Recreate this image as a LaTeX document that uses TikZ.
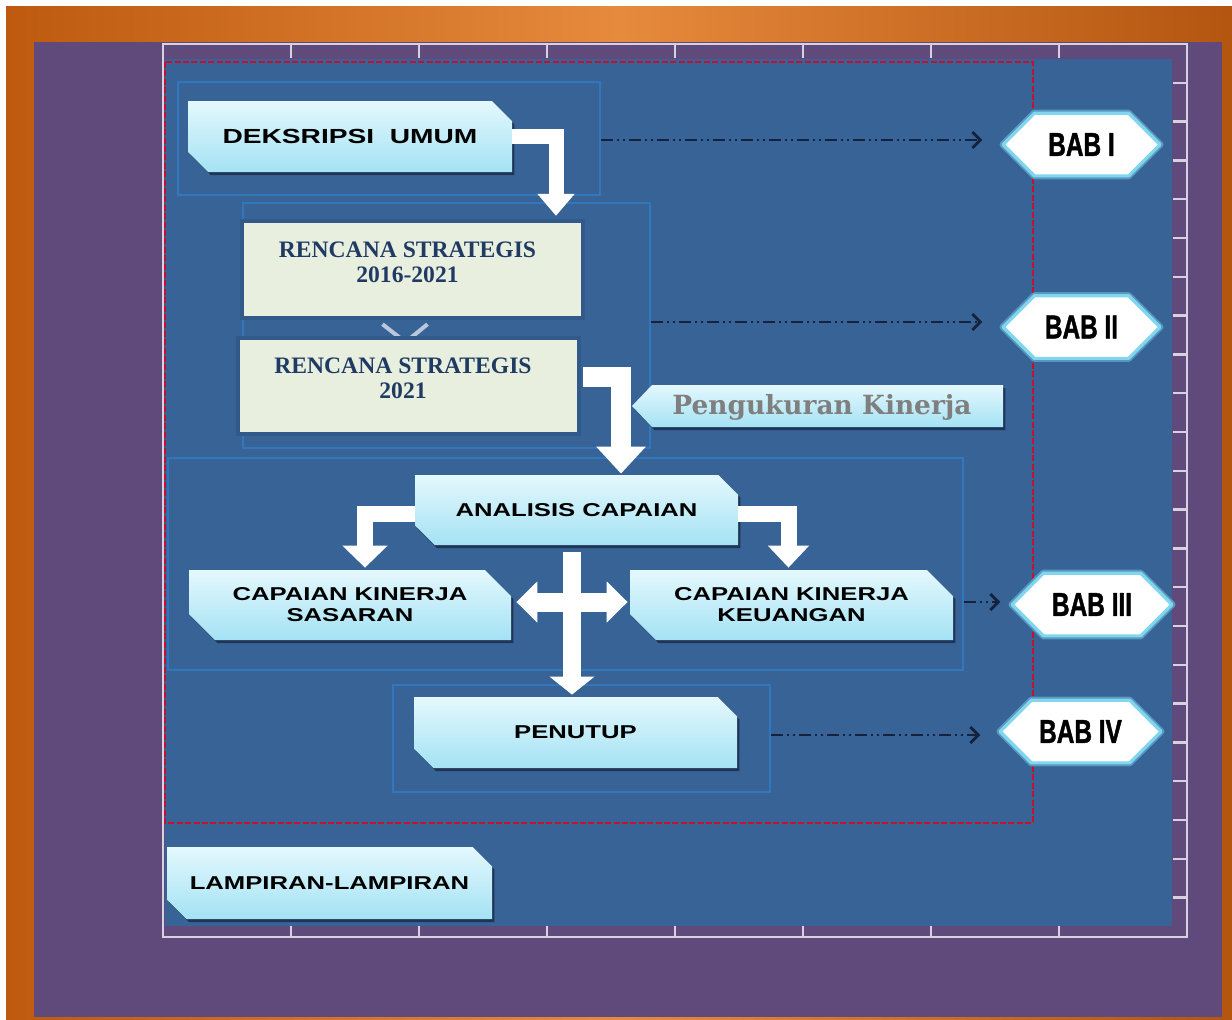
\documentclass[tikz,border=0pt]{standalone}
\usepackage{fontspec}
\setmainfont{Liberation Serif}
\newfontfamily\wfont{Liberation Sans}[FakeStretch=1.38]
\newfontfamily\cfont{Liberation Sans}[FakeStretch=0.74,FakeBold=1.2]
\newfontfamily\slabfont{DejaVu Serif}
\usetikzlibrary{arrows.meta,calc,shapes.misc,shadows}
\definecolor{oEdge}{HTML}{BD5A10}
\definecolor{oMid}{HTML}{E68A3D}
\definecolor{purp}{HTML}{5F4A7B}
\definecolor{panel}{HTML}{386396}
\definecolor{frameC}{HTML}{D6D2E0}
\definecolor{redD}{HTML}{C8102E}
\definecolor{grpC}{HTML}{3276BC}
\definecolor{navyD}{HTML}{15223D}
\definecolor{cyTop}{HTML}{E4F8FD}
\definecolor{cyBot}{HTML}{A4E2F4}
\definecolor{pale}{HTML}{E9EFDF}
\definecolor{paleB}{HTML}{31598A}
\definecolor{renT}{HTML}{1F3A63}
\definecolor{glow}{HTML}{7FD6EE}
\definecolor{pengT}{HTML}{7F7F7F}
\begin{document}
\begin{tikzpicture}[x=0.5pt,y=-0.5pt,
  lbox/.style={chamfered rectangle, chamfered rectangle corners={north east,south west},
    chamfered rectangle xsep=6.5pt, chamfered rectangle ysep=6.5pt,
    top color=cyTop, bottom color=cyBot,
    drop shadow={shadow xshift=1.2pt,shadow yshift=-1.5pt,fill=navyD,opacity=0.7},
    inner sep=0pt, text=black, align=center,
    font=\wfont\bfseries\fontsize{9.3}{10.5}\selectfont},
  rbox/.style={chamfered rectangle, chamfered rectangle corners={north east},
    chamfered rectangle xsep=7.5pt, chamfered rectangle ysep=7.5pt,
    fill=pale, draw=paleB, line width=2.2pt, inner sep=0pt},
  rtext/.style={align=center, text=renT, inner sep=0pt,
    font=\bfseries\fontsize{11.8}{12.3}\selectfont},
  bab/.style={chamfered rectangle, chamfered rectangle xsep=12pt, chamfered rectangle ysep=10pt,
    line join=round, fill=white, draw=glow, line width=1.6pt,
    preaction={draw=glow!45!panel, line width=3.5pt, line join=round},
    inner sep=0pt, text=black, font=\cfont\bfseries\fontsize{16.5}{18}\selectfont},
  grp/.style={draw=grpC, line width=1.2pt, inner sep=0pt},
  wbar/.style={draw=white, line join=miter},
  dline/.style={navyD, line width=1.4pt,
    dash pattern=on 6pt off 2pt on 1pt off 2pt on 1pt off 2pt,
    -{Straight Barb[length=4pt,width=8pt]}}
]
\useasboundingbox (0,0) rectangle (1232,1019);
% backgrounds
\fill[white] (0,0) rectangle (1232,1019);
\shade[left color=oEdge, right color=oEdge!95!black, middle color=oMid] (6,6) rectangle (1232,1019);
\fill[purp] (34,42) rectangle (1222,1017);
\fill[panel] (165,59) rectangle (1172,926);
% frame and ticks
\draw[frameC, line width=1.2pt] (163,44) rectangle (1187,937);
\foreach \i in {1,...,7} {
  \draw[frameC, line width=1.2pt] (163+128*\i,44) -- (163+128*\i,58);
  \draw[frameC, line width=1.2pt] (163+128*\i,926) -- (163+128*\i,937);
}
\foreach \i in {1,...,22} {
  \draw[frameC, line width=1.2pt] (1173,44+38.8*\i) -- (1187,44+38.8*\i);
}
% red dashed border
\draw[redD, line width=1.3pt, dash pattern=on 3pt off 1.2pt] (165,62) rectangle (1033,823);
% group outlines
\node[grp, minimum width=211pt, minimum height=56.5pt] (g1) at (389,138.5) {};
\node[grp, minimum width=203.5pt, minimum height=122.5pt] (g2) at (446.5,325.5) {};
\node[grp, minimum width=397.5pt, minimum height=106pt] (g3) at (565.5,564) {};
\node[grp, minimum width=188.5pt, minimum height=53.5pt] (g4) at (581.5,738.5) {};
% BAB nodes
\node[bab, minimum width=78.5pt, minimum height=27.5pt] (bab1) at (1081.5,144.5) {BAB I};
\node[bab, minimum width=78.5pt, minimum height=27pt] (bab2) at (1081.5,327) {BAB II};
\node[bab, minimum width=80pt, minimum height=27.5pt] (bab3) at (1092,604.5) {BAB III};
\node[bab, minimum width=80.5pt, minimum height=28.5pt] (bab4) at (1080.5,731.5) {BAB IV};
% main boxes
\node[lbox, minimum width=162pt, minimum height=35.5pt,
  font=\wfont\bfseries\fontsize{10.2}{12}\selectfont] (desk) at (350,136.5) {DEKSRIPSI\ \ UMUM};
\node[rbox, minimum width=170.5pt, minimum height=48.5pt] (ren1) at (412.5,269.5) {};
\node[rtext] (ren1t) at (407.5,262) {RENCANA STRATEGIS\\2016-2021};
\draw[white!65!panel, line width=2pt] ($(ren1.south)+(-30,4)$) -- ($(ren1.south)+(-7,22)$) -- ($(ren1.south)+(15,4)$);
\node[rbox, minimum width=170.5pt, minimum height=48pt] (ren2) at (408.5,386) {};
\node[rtext] (ren2t) at (403,378.5) {RENCANA STRATEGIS\\2021};
\node[lbox, minimum width=161.5pt, minimum height=35pt] (anal) at (576.5,510) {ANALISIS CAPAIAN};
\node[lbox, minimum width=161pt, minimum height=35pt] (sas) at (350,605) {CAPAIAN KINERJA\\SASARAN};
\node[lbox, minimum width=161.5pt, minimum height=35pt] (keu) at (791.5,605) {CAPAIAN KINERJA\\KEUANGAN};
\node[lbox, minimum width=161.5pt, minimum height=35.5pt] (pen) at (575.5,732.5) {PENUTUP};
\node[lbox, minimum width=162.5pt, minimum height=36pt] (lamp) at (329.5,883) {LAMPIRAN-LAMPIRAN};
% white block arrows
\draw[wbar, line width=7.5pt, -{Triangle[width=18pt,length=11pt]}] (desk.east) -| ($(ren1.north)+(143.5,-3)$);
\draw[wbar, line width=10pt, -{Triangle[width=24pt,length=13.5pt]}] ($(ren2.east)+(2,-9)$) -| ($(anal.north)+(44.5,-1)$);
\draw[wbar, line width=8pt, -{Triangle[width=22pt,length=11pt]}] ($(anal.west)+(0,3.5)$) -| ($(sas.north)+(15,-2)$);
\draw[wbar, line width=8pt, -{Triangle[width=20pt,length=11pt]}] ($(anal.east)+(0,3.5)$) -| ($(keu.north)+(-3,-2)$);
\draw[wbar, line width=9pt, -{Triangle[width=22pt,length=9pt]}] ($(anal.south)+(-4.5,7)$) -- ($(pen.north)+(-3.5,-2)$);
\draw[wbar, line width=9.5pt, {Triangle[width=20pt,length=10.5pt]}-{Triangle[width=20pt,length=10.5pt]}] ($(sas.east)+(5,-3)$) -- ($(keu.west)+(-2,-3)$);
% Pengukuran Kinerja pointer
\shade[top color=cyTop, bottom color=cyBot,
  drop shadow={shadow xshift=1.2pt,shadow yshift=-1.5pt,fill=navyD,opacity=0.7}]
  (652,385) -- (1003,385) -- (1003,427) -- (652,427) -- (632,406) -- cycle;
\node[font=\slabfont\bfseries\fontsize{13.2}{15}\selectfont, text=pengT, inner sep=0pt] (peng) at (822,407) {Pengukuran Kinerja};
% dashed connectors
\draw[dline, shorten >=9.5pt] ($(g1.east)+(0,1.5)$) -- ($(g1.east -| bab1.west)+(0,1.5)$);
\draw[dline, shorten >=9.5pt] ($(g2.east)+(0,-3.5)$) -- ($(g2.east -| bab2.west)+(0,-3.5)$);
\draw[dline, shorten >=5pt] ($(keu.east -| g3.east)+(0,-3)$) -- ($(keu.east -| bab3.west)+(0,-3)$);
\draw[dline, shorten >=9pt] ($(g4.east)+(0,-3.5)$) -- ($(g4.east -| bab4.west)+(0,-3.5)$);
\end{tikzpicture}
\end{document}
